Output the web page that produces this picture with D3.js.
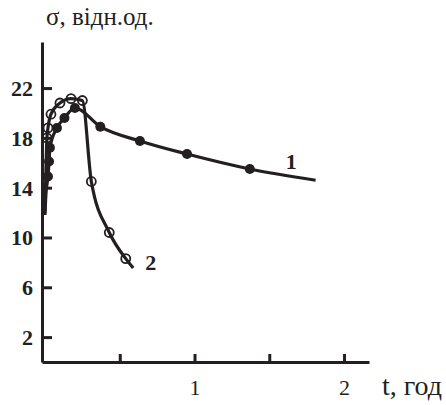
<!DOCTYPE html>
<html lang="uk">
<head>
<meta charset="UTF-8">
<title>σ(t)</title>
<script src="https://d3js.org/d3.v7.min.js"></script>
<style>
  body { margin: 0; background: #fff; }
  text { font-family: "Liberation Serif", "DejaVu Serif", serif; fill: #231f20; }
</style>
</head>
<body>
<div id="chart"></div>
<script>
// curve 1 (filled dots)
var t1 = [0, 0.007, 0.02, 0.027, 0.033, 0.08, 0.13, 0.2, 0.37, 0.635, 0.95, 1.37, 1.81];
var s1 = [12.0, 13.6, 14.9, 16.1, 17.2, 18.8, 19.6, 20.4, 18.9, 17.75, 16.7, 15.5, 14.6];
// curve 2 (open circles)
var t2 = [0, 0.013, 0.02, 0.04, 0.1, 0.174, 0.25, 0.31, 0.43, 0.54, 0.59];
var s2 = [11.8, 18.0, 18.8, 19.9, 20.8, 21.15, 21.0, 14.5, 10.4, 8.3, 7.55];

var yTicks = [2, 6, 10, 14, 18, 22];
var xTicks = [0.5, 1, 1.5, 2];
var xLabels = [1, 2];

var width = 446, height = 405;
var ink = "#231f20";

var svg = d3.select("#chart").append("svg")
    .attr("width", width)
    .attr("height", height);

var x = d3.scaleLinear().domain([-0.02, 2.167]).range([42, 369]);
var y = d3.scaleLinear().domain([0, 25.7]).range([362, 42]);

// axes
var xAxis = svg.append("g")
    .attr("transform", "translate(0," + y(0) + ")")
    .call(d3.axisBottom(x).tickValues(xTicks).tickSize(-8).tickSizeOuter(0).tickPadding(17)
        .tickFormat(function(d) { return xLabels.indexOf(d) >= 0 ? d : ""; }));

var yAxis = svg.append("g")
    .attr("transform", "translate(" + x(-0.02) + ",0)")
    .call(d3.axisLeft(y).tickValues(yTicks).tickSize(-10).tickSizeOuter(0).tickPadding(9));

[xAxis, yAxis].forEach(function(g) {
  g.select(".domain").attr("stroke", ink).attr("stroke-width", 3);
  g.selectAll(".tick line").attr("stroke", ink).attr("stroke-width", 3);
  g.selectAll("text").attr("fill", ink).style("font-family", "'Liberation Serif', serif");
});
xAxis.selectAll("text").style("font-size", "22px");
yAxis.selectAll("text").style("font-size", "22px").style("font-weight", "bold").attr("dy", "0.34em");

// axis titles
svg.append("text").attr("x", 46).attr("y", 25).style("font-size", "25px").text("σ, відн.од.");
svg.append("text").attr("x", 382).attr("y", 395).style("font-size", "28px").text("t, год");

var line = d3.line()
    .x(function(d) { return x(d[0]); })
    .y(function(d) { return y(d[1]); })
    .curve(d3.curveMonotoneX);

var d1 = t1.map(function(t, i) { return [t, s1[i]]; });
var d2 = t2.map(function(t, i) { return [t, s2[i]]; });

svg.append("path").datum(d1).attr("d", line)
    .attr("fill", "none").attr("stroke", ink).attr("stroke-width", 3.2);
svg.append("path").datum(d2).attr("d", line)
    .attr("fill", "none").attr("stroke", ink).attr("stroke-width", 3.2);

// markers (curve ends carry none)
svg.selectAll(".dot1").data(d1.slice(2, -1)).enter().append("circle")
    .attr("cx", function(d) { return x(d[0]); })
    .attr("cy", function(d) { return y(d[1]); })
    .attr("r", 5).attr("fill", ink);
svg.selectAll(".dot2").data(d2.slice(1, -1)).enter().append("circle")
    .attr("cx", function(d) { return x(d[0]); })
    .attr("cy", function(d) { return y(d[1]); })
    .attr("r", 4.5).attr("fill", "none").attr("stroke", ink).attr("stroke-width", 1.8);

// curve numbers
svg.append("text").attr("x", x(1.61)).attr("y", y(15.5)).style("font-size", "22px").style("font-weight", "bold").text("1");
svg.append("text").attr("x", x(0.67)).attr("y", y(7.4)).style("font-size", "22px").style("font-weight", "bold").text("2");
</script>
</body>
</html>
